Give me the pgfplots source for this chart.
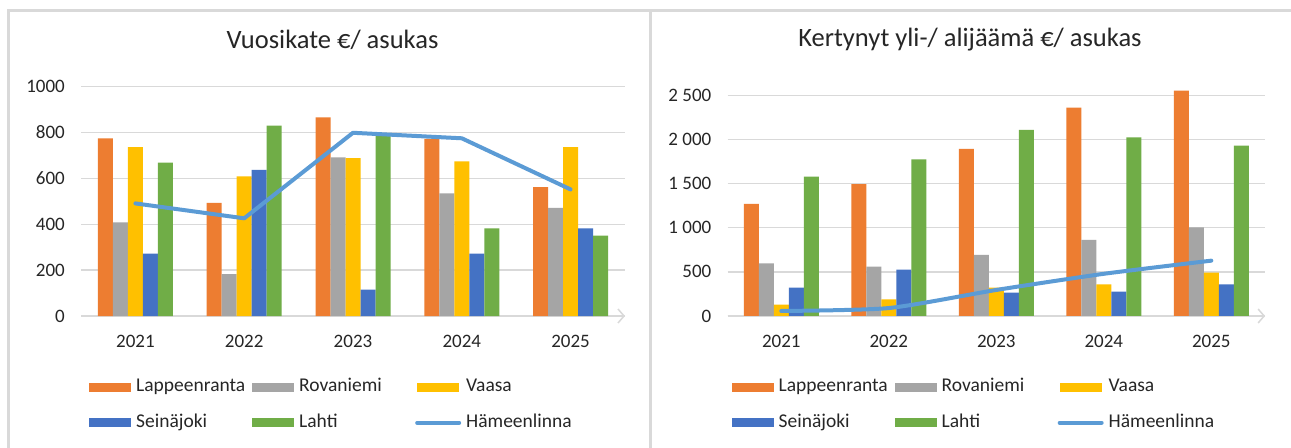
\documentclass[border=0pt]{standalone}
\usepackage{fontspec}
\setmainfont{Carlito}
\usepackage{pgfplots}
\pgfplotsset{compat=1.18}
\usetikzlibrary{arrows.meta}
\definecolor{cOr}{HTML}{ED7D31}
\definecolor{cGr}{HTML}{A5A5A5}
\definecolor{cYe}{HTML}{FFC000}
\definecolor{cBl}{HTML}{4472C4}
\definecolor{cGn}{HTML}{70AD47}
\definecolor{cLn}{HTML}{5B9BD5}
\definecolor{cGrid}{HTML}{D9D9D9}
\definecolor{cTxt}{HTML}{262626}
\pgfplotsset{
  barleg/.style={legend image code/.code={\path[##1] (0bp,-4.5bp) rectangle (42bp,4.5bp);}},
  lineleg/.style={legend image code/.code={\draw[##1] (0bp,0bp) -- (42bp,0bp);}},
  mybar/.style={ybar, bar width=15bp, draw=none, fill=#1, barleg},
  panel/.style={
    scale only axis,
    xmin=-0.5, xmax=4.5, ymin=0,
    xtick={0,1,2,3,4},
    xticklabels={2021,2022,2023,2024,2025},
    axis x line*=bottom, axis y line*=left,
    y axis line style={draw=none},
    x axis line style={draw=cGrid, line width=1.5bp, -{Straight Barb[length=6bp,width=14bp]}},
    major tick length=0pt,
    ymajorgrids, grid style={draw=cGrid, line width=1.3bp},
    tick label style={font=\fontsize{19bp}{22bp}\selectfont, text=cTxt},
    /pgf/number format/assume math mode=true,
    yticklabel style={inner sep=0pt, anchor=east, xshift=-16bp},
    xticklabel style={inner sep=0pt, anchor=north, yshift=-19bp},
    title style={font=\fontsize{26.5bp}{30bp}\selectfont, text=cTxt, anchor=center},
    legend columns=3,
    legend cell align=left,
    legend style={draw=none, fill=none, inner sep=0pt, row sep=19bp,
      font=\fontsize{19.5bp}{22bp}\selectfont, text=cTxt,
      nodes={inner sep=0pt, text height=12.6bp, text depth=4bp},
      /tikz/every odd column/.append style={column sep=5bp},
      anchor=north west},
    clip=false,
  }
}
\begin{document}
\begin{tikzpicture}
\useasboundingbox (0,0) rectangle (1291bp,448bp);
\fill[white] (0,0) rectangle (1291bp,448bp);
\draw[cGrid, line width=2.5bp] (8.5bp,0) -- (8.5bp,437.5bp) -- (1291bp,437.5bp);
\draw[cGrid, line width=3bp] (650bp,0) -- (650bp,437.5bp);

\begin{axis}[panel,
  at={(81bp,132bp)}, anchor=south west,
  width=544bp, height=229.3bp,
  ymax=1000, ytick={0,200,400,600,800,1000},
  /pgf/number format/1000 sep={},
  title={Vuosikate €/ asukas},
  title style={at={(axis description cs:0.4623,1.1775)}},
  legend style={at={(axis description cs:0.0147,-0.2734)}},
]
\addplot[mybar=cOr, bar shift=-30bp] coordinates {(0,775) (1,493) (2,866) (3,772) (4,562)};
\addplot[mybar=cGr, bar shift=-15bp] coordinates {(0,408) (1,183) (2,692) (3,535) (4,471)};
\addplot[mybar=cYe, bar shift=0bp] coordinates {(0,737) (1,609) (2,688) (3,674) (4,737)};
\addplot[mybar=cBl, bar shift=15bp] coordinates {(0,272) (1,637) (2,115) (3,272) (4,382)};
\addplot[mybar=cGn, bar shift=30bp] coordinates {(0,669) (1,830) (2,790) (3,382) (4,350)};
\addplot[cLn, line width=4bp, line cap=round, line join=round, lineleg] coordinates {(0,491) (1,426) (2,799) (3,775) (4,552)};
\legend{\makebox[116bp][l]{Lappeenranta},\makebox[116bp][l]{Rovaniemi},\makebox[116bp][l]{Vaasa},\makebox[116bp][l]{Seinäjoki},\makebox[116bp][l]{Lahti},\makebox[116bp][l]{Hämeenlinna}}
\end{axis}

\begin{axis}[panel,
  at={(727.5bp,132bp)}, anchor=south west,
  width=537.6bp, height=220.7bp,
  ymax=2500, ytick={0,500,1000,1500,2000,2500},
  /pgf/number format/1000 sep={\ },
  title={Kertynyt yli-/ alijäämä €/ asukas},
  title style={at={(axis description cs:0.451,1.2234)}},
  legend style={at={(axis description cs:0.0074,-0.284)}},
]
\addplot[mybar=cOr, bar shift=-30bp] coordinates {(0,1269) (1,1495) (2,1892) (3,2360) (4,2553)};
\addplot[mybar=cGr, bar shift=-15bp] coordinates {(0,597) (1,559) (2,691) (3,861) (4,1005)};
\addplot[mybar=cYe, bar shift=0bp] coordinates {(0,128) (1,189) (2,321) (3,359) (4,491)};
\addplot[mybar=cBl, bar shift=15bp] coordinates {(0,321) (1,525) (2,265) (3,276) (4,359)};
\addplot[mybar=cGn, bar shift=30bp] coordinates {(0,1579) (1,1775) (2,2107) (3,2024) (4,1930)};
\addplot[cLn, line width=4bp, line cap=round, line join=round, smooth, tension=0.4, lineleg] coordinates {(0,57) (1,90) (2,295) (3,478) (4,627)};
\legend{\makebox[116bp][l]{Lappeenranta},\makebox[116bp][l]{Rovaniemi},\makebox[116bp][l]{Vaasa},\makebox[116bp][l]{Seinäjoki},\makebox[116bp][l]{Lahti},\makebox[116bp][l]{Hämeenlinna}}
\end{axis}
\end{tikzpicture}
\end{document}
